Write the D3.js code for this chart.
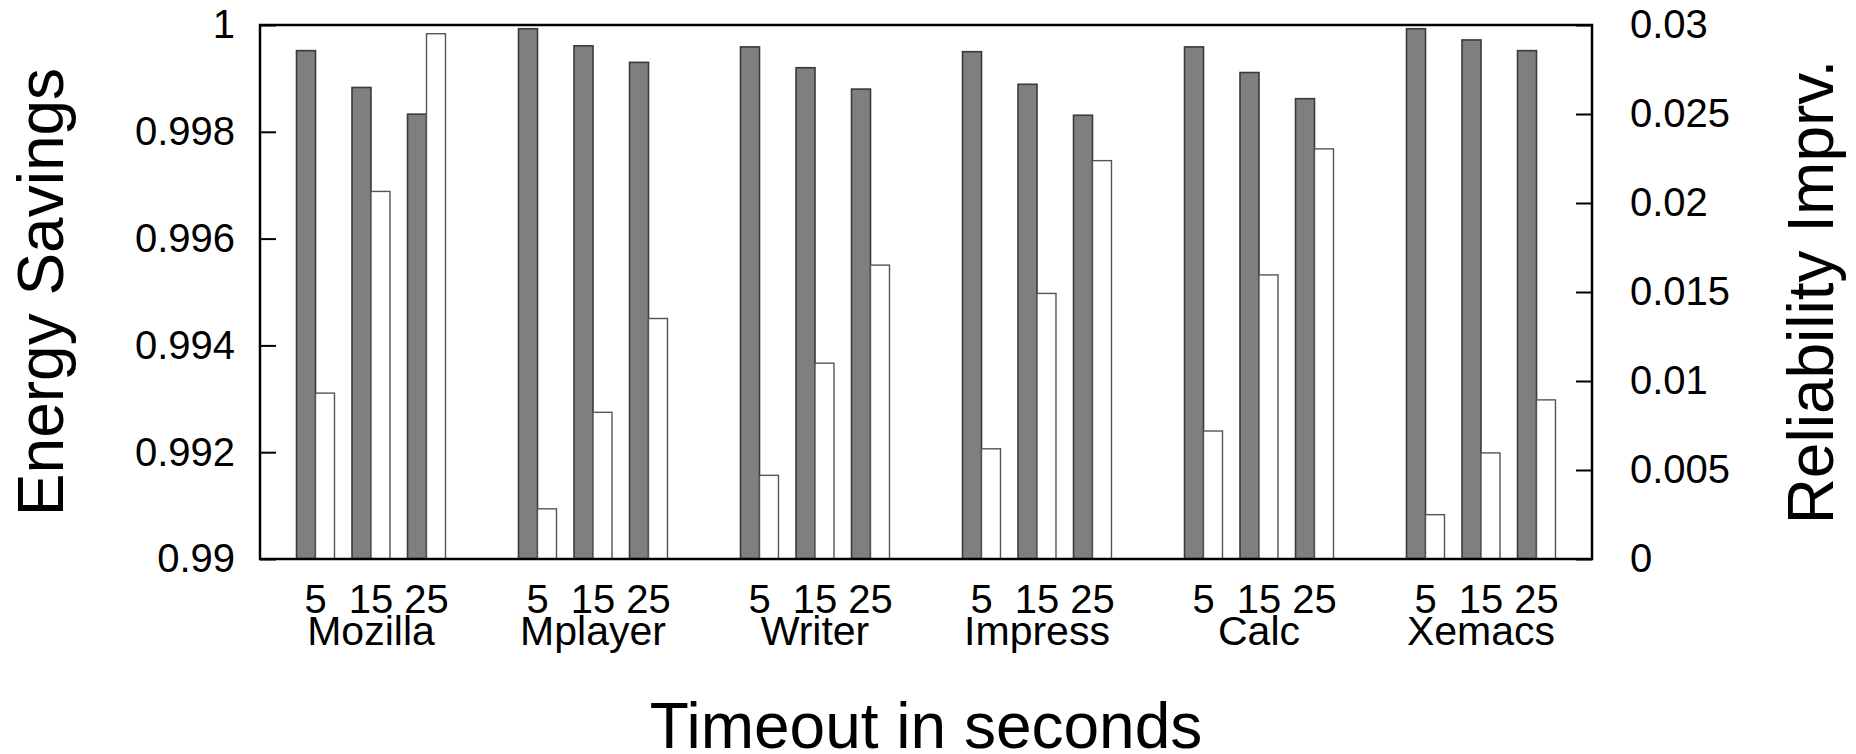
<!DOCTYPE html>
<html>
<head>
<meta charset="utf-8">
<script src="https://cdn.jsdelivr.net/npm/d3@7"></script>
<style>
  html, body { margin: 0; padding: 0; background: #fff; }
  svg { display: block; font-family: 'Liberation Sans', Arial, Helvetica, sans-serif; }
  .domain { display: none; }
</style>
</head>
<body>
<div id="chart"></div>
<script>
'use strict';

const apps = ['Mozilla', 'Mplayer', 'Writer', 'Impress', 'Calc', 'Xemacs'];
const timeouts = ['5', '15', '25'];

// energy savings (left axis), one row per app, columns = timeouts 5/15/25
const energySavings = [
    [0.99952, 0.99883, 0.99833],
    [0.99993, 0.99961, 0.99930],
    [0.99959, 0.99920, 0.99880],
    [0.99950, 0.99889, 0.99831],
    [0.99959, 0.99911, 0.99862],
    [0.99993, 0.99972, 0.99952]
];

// reliability improvement (right axis)
const reliabilityImprv = [
    [0.00932, 0.02065, 0.02951],
    [0.00282, 0.00824, 0.01351],
    [0.00470, 0.01100, 0.01651],
    [0.00619, 0.01492, 0.02238],
    [0.00719, 0.01596, 0.02304],
    [0.00249, 0.00596, 0.00894]
];

const leftTicks = [0.99, 0.992, 0.994, 0.996, 0.998, 1];
const leftTickLabels = ['0.99', '0.992', '0.994', '0.996', '0.998', '1'];
const rightTicks = [0, 0.005, 0.01, 0.015, 0.02, 0.025, 0.03];
const rightTickLabels = ['0', '0.005', '0.01', '0.015', '0.02', '0.025', '0.03'];

const width = 1856;
const height = 754;
const margin = { left: 260, right: 264, top: 25, bottom: 195 };
const plotRight = width - margin.right;
const plotBottom = height - margin.bottom;

const svg = d3.select('#chart')
    .append('svg')
    .attr('width', width)
    .attr('height', height);

// one slot per cluster; every app uses 3 slots + 1 empty slot
const xScale = d3.scaleLinear()
    .domain([-1, 23])
    .range([margin.left, plotRight]);

const yLeft = d3.scaleLinear()
    .domain([0.99, 1])
    .range([plotBottom, margin.top]);

const yRight = d3.scaleLinear()
    .domain([0, 0.03])
    .range([plotBottom, margin.top]);

const barWidth = xScale(0.342) - xScale(0);

const rows = [];
apps.forEach(function (app, g) {
    timeouts.forEach(function (t, i) {
        rows.push({
            app: app,
            timeout: t,
            slot: g * 4 + i,
            energy: energySavings[g][i],
            reliability: reliabilityImprv[g][i]
        });
    });
});

const bars = svg.append('g');

bars.selectAll('rect.energy')
    .data(rows)
    .join('rect')
    .attr('class', 'energy')
    .attr('x', function (d) { return xScale(d.slot) - barWidth; })
    .attr('y', function (d) { return yLeft(d.energy); })
    .attr('width', barWidth)
    .attr('height', function (d) { return plotBottom - yLeft(d.energy); })
    .attr('fill', '#7f7f7f')
    .attr('stroke', '#3a3a3a')
    .attr('stroke-width', 1.6);

bars.selectAll('rect.reliab')
    .data(rows)
    .join('rect')
    .attr('class', 'reliab')
    .attr('x', function (d) { return xScale(d.slot); })
    .attr('y', function (d) { return yRight(d.reliability); })
    .attr('width', barWidth)
    .attr('height', function (d) { return plotBottom - yRight(d.reliability); })
    .attr('fill', '#ffffff')
    .attr('stroke', '#555555')
    .attr('stroke-width', 1.4);

// left axis, ticks pointing inward
const leftAxis = d3.axisLeft(yLeft)
    .tickValues(leftTicks)
    .tickFormat(function (d, i) { return leftTickLabels[i]; })
    .tickSizeInner(-16)
    .tickSizeOuter(0)
    .tickPadding(25);

const gl = svg.append('g')
    .attr('transform', `translate(${margin.left},0)`)
    .call(leftAxis);

// right axis
const rightAxis = d3.axisRight(yRight)
    .tickValues(rightTicks)
    .tickFormat(function (d, i) { return rightTickLabels[i]; })
    .tickSizeInner(-16)
    .tickSizeOuter(0)
    .tickPadding(38);

const gr = svg.append('g')
    .attr('transform', `translate(${plotRight},0)`)
    .call(rightAxis);

[gl, gr].forEach(function (g) {
    g.selectAll('.tick line').attr('stroke', '#000').attr('stroke-width', 2);
    g.selectAll('.tick text')
        .attr('font-size', 40)
        .attr('font-family', 'Liberation Sans, Arial, sans-serif')
        .attr('fill', '#000');
});

// timeout labels under each cluster
svg.append('g').selectAll('text')
    .data(rows)
    .join('text')
    .attr('x', function (d) { return xScale(d.slot); })
    .attr('y', 613)
    .attr('text-anchor', 'middle')
    .attr('font-size', 40)
    .attr('fill', '#000')
    .text(function (d) { return d.timeout; });

// app names under the middle cluster
svg.append('g').selectAll('text')
    .data(apps)
    .join('text')
    .attr('x', function (d, g) { return xScale(g * 4 + 1); })
    .attr('y', 645)
    .attr('text-anchor', 'middle')
    .attr('font-size', 41)
    .attr('fill', '#000')
    .text(function (d) { return d; });

// plot border
svg.append('rect')
    .attr('x', margin.left)
    .attr('y', margin.top)
    .attr('width', plotRight - margin.left)
    .attr('height', plotBottom - margin.top)
    .attr('fill', 'none')
    .attr('stroke', '#000')
    .attr('stroke-width', 2.5);

// axis titles
svg.append('text')
    .attr('x', (margin.left + plotRight) / 2)
    .attr('y', 748)
    .attr('text-anchor', 'middle')
    .attr('font-size', 64)
    .attr('fill', '#000')
    .text('Timeout in seconds');

svg.append('text')
    .attr('transform', `translate(63,${(margin.top + plotBottom) / 2}) rotate(-90)`)
    .attr('text-anchor', 'middle')
    .attr('font-size', 64)
    .attr('fill', '#000')
    .text('Energy Savings');

svg.append('text')
    .attr('transform', `translate(1833,${(margin.top + plotBottom) / 2}) rotate(-90)`)
    .attr('text-anchor', 'middle')
    .attr('font-size', 64)
    .attr('fill', '#000')
    .text('Reliability Imprv.');
</script>
</body>
</html>
